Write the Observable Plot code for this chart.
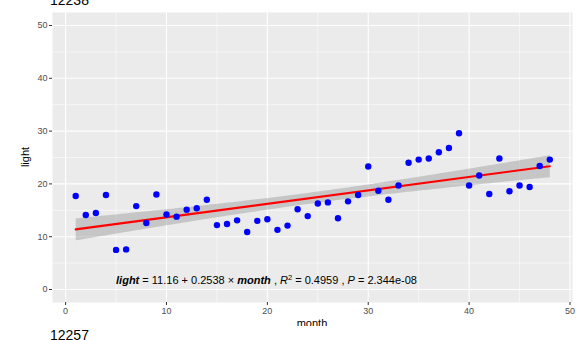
<!DOCTYPE html>
<html>
<head>
<meta charset="utf-8">
<script src="https://cdn.jsdelivr.net/npm/d3@7"></script>
<script src="https://cdn.jsdelivr.net/npm/@observablehq/plot@0.6"></script>
<style>
  html, body { margin: 0; padding: 0; background: #fff; }
  #wrap { position: relative; width: 576px; height: 340px; overflow: hidden; font-family: "Liberation Sans", Arial, sans-serif; }
  #chart svg { display: block; }
  .title { position: absolute; font-size: 14px; line-height: 14px; color: #000; white-space: nowrap; }
  .axlab { position: absolute; font-size: 11px; line-height: 11px; color: #000; white-space: nowrap; }
</style>
</head>
<body>
<div id="wrap">
  <div id="chart"></div>
  <div class="title" style="left:50px; top:-7px;">12238</div>
  <div class="axlab" style="left:312px; top:318px; transform:translateX(-50%);">month</div>
  <div class="axlab" style="left:25px; top:157px; transform:translate(-50%,-50%) rotate(-90deg);">light</div>
  <div class="title" style="left:0; top:326px; width:576px; height:14px; background:#fff; padding-left:50px; padding-top:2px; box-sizing:border-box;">12257</div>
</div>
<script>
const months = [1,2,3,4,5,6,7,8,9,10,11,12,13,14,15,16,17,18,19,20,21,22,23,24,25,26,27,28,29,30,31,32,33,34,35,36,37,38,39,40,41,42,43,44,45,46,47,48];
const light = [17.7,14.1,14.5,17.9,7.5,7.6,15.8,12.6,18.0,14.2,13.8,15.1,15.4,17.0,12.2,12.4,13.1,10.9,13.0,13.3,11.3,12.1,15.2,13.9,16.3,16.5,13.5,16.7,17.9,23.3,18.7,17.0,19.7,24.0,24.6,24.8,26.0,26.8,29.6,19.7,21.6,18.1,24.8,18.6,19.7,19.4,23.4,24.6];
const majorTicks = [0,10,20,30,40,50];
const minorTicks = [5,15,25,35,45];
const annX = [5];
const annY = [1.7];
const annLabel = ["light = 11.16 + 0.2538 × month , R² = 0.4959 , P = 2.344e-08"];

const data = months.map((m, i) => ({month: m, light: light[i]}));

const plot = Plot.plot({
  width: 576,
  height: 340,
  marginLeft: 52,
  marginRight: 4,
  marginTop: 12,
  marginBottom: 38,
  style: {fontFamily: "'Liberation Sans', Arial, sans-serif", background: "transparent"},
  x: {domain: [-1.3, 50.25]},
  y: {domain: [-2.46, 52.46]},
  marks: [
    Plot.frame({fill: "#EBEBEB", stroke: null}),
    Plot.gridX(minorTicks, {stroke: "#fff", strokeOpacity: 1, strokeWidth: 0.55}),
    Plot.gridY(minorTicks, {stroke: "#fff", strokeOpacity: 1, strokeWidth: 0.55}),
    Plot.gridX(majorTicks, {stroke: "#fff", strokeOpacity: 1, strokeWidth: 1.1}),
    Plot.gridY(majorTicks, {stroke: "#fff", strokeOpacity: 1, strokeWidth: 1.1}),
    Plot.axisX(majorTicks, {label: null, tickSize: 3, tickPadding: 2, stroke: "#333", fill: "#4D4D4D", fontSize: 9}),
    Plot.axisY(majorTicks, {label: null, tickSize: 3, tickPadding: 2, stroke: "#333", fill: "#4D4D4D", fontSize: 9}),
    Plot.linearRegressionY(data, {x: "month", y: "light", stroke: "#FF0000", strokeWidth: 2.1, fill: "#999999", fillOpacity: 0.45, ci: 0.95}),
    Plot.dot(data, {x: "month", y: "light", r: 3.2, fill: "#0000FF", stroke: null}),
    Plot.text(annLabel, {x: (d, i) => annX[i], y: (d, i) => annY[i], text: d => d, textAnchor: "start", fontSize: 11, fill: "#000", className: "eqn"})
  ]
});
document.getElementById("chart").appendChild(plot);

// rich formatting of the equation label
d3.select(plot).selectAll(".eqn text").each(function() {
  const t = d3.select(this);
  t.text(null);
  const parts = [
    {s: "light", w: "bold", i: true},
    {s: " = 11.16 + 0.2538 × "},
    {s: "month", w: "bold", i: true},
    {s: " , "},
    {s: "R", i: true},
    {s: "2", sup: true},
    {s: " = 0.4959 , "},
    {s: "P", i: true},
    {s: " = 2.344e-08"}
  ];
  let shifted = false;
  for (const p of parts) {
    const ts = t.append("tspan").text(p.s);
    if (p.w) ts.attr("font-weight", p.w);
    if (p.i) ts.attr("font-style", "italic");
    if (p.sup) { ts.attr("font-size", 7.5).attr("dy", -4); shifted = true; }
    else if (shifted) { ts.attr("dy", 4); shifted = false; }
  }
});
</script>
</body>
</html>
